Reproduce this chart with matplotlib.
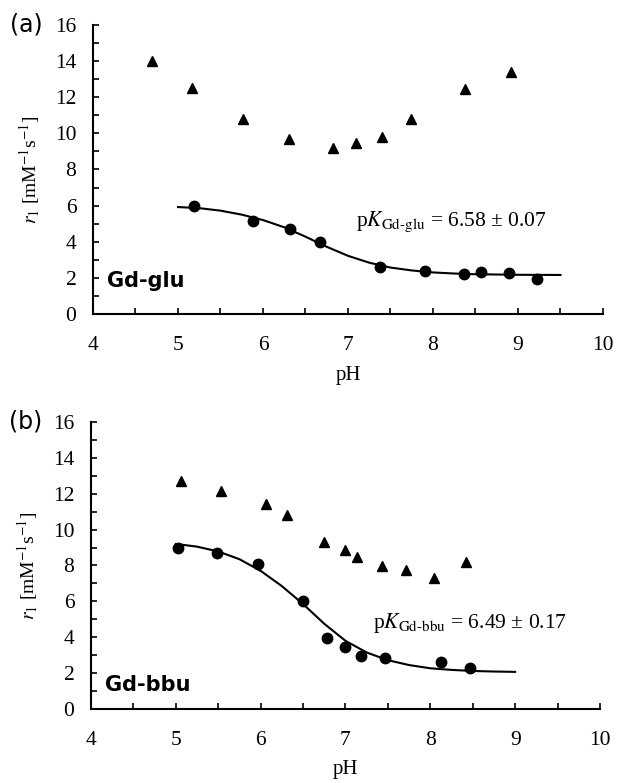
import matplotlib
matplotlib.use("Agg")
import matplotlib.pyplot as plt
import numpy as np

plt.rcParams['font.family'] = ['Liberation Serif', 'DejaVu Serif']
plt.rcParams['mathtext.fontset'] = 'stix'

# panel (a) Gd-glu
glu_tri_ph = [4.69, 5.16, 5.76, 6.31, 6.82, 7.10, 7.40, 7.74, 8.38, 8.92]
glu_tri_r1 = [14.0, 12.5, 10.8, 9.7, 9.2, 9.45, 9.8, 10.8, 12.45, 13.4]
glu_dot_ph = [5.19, 5.88, 6.32, 6.67, 7.38, 7.91, 8.37, 8.56, 8.89, 9.22]
glu_dot_r1 = [6.0, 5.15, 4.7, 4.0, 2.6, 2.4, 2.2, 2.3, 2.25, 1.95]
# fitted curve
glu_fit_ph = [5.0, 5.25, 5.5, 5.75, 6.0, 6.25, 6.5, 6.75, 7.0, 7.25, 7.5, 7.75,
              8.0, 8.25, 8.5, 9.0, 9.5]
glu_fit_r1 = [5.92, 5.86, 5.72, 5.5, 5.2, 4.8, 4.28, 3.72, 3.22, 2.84, 2.57, 2.41,
              2.3, 2.24, 2.2, 2.17, 2.16]

# panel (b) Gd-bbu
bbu_tri_ph = [5.06, 5.53, 6.06, 6.31, 6.75, 7.00, 7.14, 7.43, 7.71, 8.04, 8.42]
bbu_tri_r1 = [12.7, 12.15, 11.4, 10.8, 9.3, 8.85, 8.5, 7.95, 7.75, 7.3, 8.2]
bbu_dot_ph = [5.03, 5.49, 5.97, 6.50, 6.78, 7.00, 7.18, 7.47, 8.13, 8.47]
bbu_dot_r1 = [8.95, 8.7, 8.1, 6.0, 3.95, 3.45, 2.95, 2.85, 2.6, 2.3]
bbu_fit_ph = [5.0, 5.25, 5.5, 5.75, 6.0, 6.25, 6.5, 6.75, 7.0, 7.25, 7.5, 7.75,
              8.0, 8.25, 8.5, 8.75, 9.0]
bbu_fit_r1 = [9.2, 9.05, 8.78, 8.35, 7.7, 6.85, 5.85, 4.75, 3.8, 3.15, 2.72, 2.45,
              2.27, 2.18, 2.12, 2.09, 2.07]

x_major = [4, 5, 6, 7, 8, 9, 10]
y_major = [0, 2, 4, 6, 8, 10, 12, 14, 16]

panels = [
    ("(a)", "Gd-glu", r"p$K_{\mathrm{Gd\text{-}glu}}$ = 6.58 ± 0.07", (7.1, 5.1), 1.8, 8,
     glu_tri_ph, glu_tri_r1, glu_dot_ph, glu_dot_r1, glu_fit_ph, glu_fit_r1,
     [0.1507, 0.5990, 0.8266, 0.3691]),
    ("(b)", "Gd-bbu", r"p$K_{\mathrm{Gd\text{-}bbu}}$ = 6.49 ± 0.17", (7.33, 4.8), 1.35, 7,
     bbu_tri_ph, bbu_tri_r1, bbu_dot_ph, bbu_dot_r1, bbu_fit_ph, bbu_fit_r1,
     [0.1475, 0.0945, 0.8249, 0.3666]),
]

fig = plt.figure(figsize=(6.17, 7.83), dpi=100)

for tag, name, pk, pk_xy, name_y, xpad, tx, ty, dx, dy, fx, fy, rect in panels:
    ax = fig.add_axes(rect)
    ax.plot(fx, fy, color="black", lw=1.5, zorder=2)
    ax.plot(tx, ty, "^", color="black", ms=7, ls="none", zorder=3)
    ax.plot(dx, dy, "o", color="black", ms=7.5, ls="none", zorder=3)

    ax.set_xlim(4, 10)
    ax.set_ylim(0, 16)
    ax.set_xticks(x_major)
    ax.set_xticklabels([str(v) for v in x_major], fontfamily="Liberation Serif")
    ax.set_xticks(np.arange(4, 10.01, 0.5), minor=True)
    ax.set_yticks(y_major)
    ax.set_yticklabels([str(v) for v in y_major], fontfamily="Liberation Serif")
    ax.set_yticks(np.arange(0, 17, 1), minor=True)
    ax.tick_params(which="both", direction="in", length=4, width=1.2, labelsize=15.5)
    ax.tick_params(axis="x", which="major", pad=16)
    ax.tick_params(axis="y", which="major", pad=12)
    for s in ["top", "right"]:
        ax.spines[s].set_visible(False)
    for s in ["left", "bottom"]:
        ax.spines[s].set_linewidth(1.5)

    ax.set_xlabel("pH", fontsize=15, labelpad=xpad)
    ax.set_ylabel(r"$r_1$ [mM$^{-1}$s$^{-1}$]", fontsize=14, labelpad=9)

    ax.text(pk_xy[0], pk_xy[1], pk, fontsize=15.5, va="center", ha="left")
    ax.text(4.17, name_y, name, fontsize=15,
            fontweight="bold", family="DejaVu Sans", va="center", ha="left")
    ax.text(-0.162, 1.0, tag, transform=ax.transAxes, fontsize=17,
            family="DejaVu Sans", va="center", ha="left")

fig.savefig("out.png", dpi=100)
